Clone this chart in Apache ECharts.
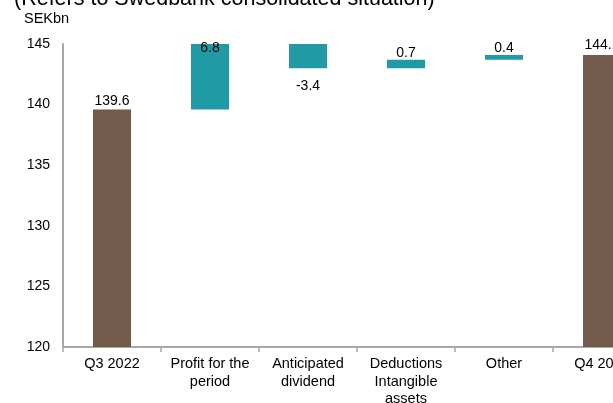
<!DOCTYPE html>
<html><head><meta charset="utf-8">
<script src="https://cdn.jsdelivr.net/npm/echarts@6/dist/echarts.min.js"></script>
<style>html,body{margin:0;padding:0;background:#fff}#c{width:613px;height:403px}</style>
</head><body><div id="c"></div>
<script>
const categories = ['Q3 2022', 'Profit for the\nperiod', 'Anticipated\ndividend', 'Deductions\nIntangible\nassets', 'Other', 'Q4 2022'];
const changes = [139.6, 6.8, -3.4, 0.7, 0.4, 144.1];
const isTotal = [true, false, false, false, false, true];
const yTicks = [120, 125, 130, 135, 140, 145];

const BROWN = '#735a4b', TEAL = '#209ba6';
const base = [], visible = [];
let running = 0;
changes.forEach((v, i) => {
  if (isTotal[i]) { base.push(0); visible.push(v); running = v; }
  else {
    const lo = v >= 0 ? running : running + v;
    base.push(lo); visible.push(Math.abs(v)); running += v;
  }
});

const labelCfg = [
  {position: 'top', distance: 1},
  {position: 'top', distance: 1, offset: [0, 12]},
  {position: 'bottom', distance: 11},
  {position: 'top', distance: 0},
  {position: 'top', distance: 0},
  {position: 'top', distance: 3}
];

const chart = echarts.init(document.getElementById('c'), null, {renderer: 'canvas'});
chart.setOption({
  animation: false,
  textStyle: {fontFamily: 'Liberation Sans, Arial, sans-serif'},
  title: [
    {text: '(Refers to Swedbank consolidated situation)', left: 9, top: -17,
     textStyle: {fontSize: 21.5, fontWeight: 'normal', color: '#000', fontFamily: 'Liberation Sans'}},
    {text: 'SEKbn', left: 19, top: 6,
     textStyle: {fontSize: 14.5, fontWeight: 'normal', color: '#000', fontFamily: 'Liberation Sans'}}
  ],
  grid: {left: 63, top: 44, width: 588, bottom: 56, containLabel: false, outerBoundsMode: 'none'},
  xAxis: {
    type: 'category', data: categories,
    axisLine: {lineStyle: {color: '#a8a8a8', width: 2}},
    axisTick: {show: true, length: 5, lineStyle: {color: '#a8a8a8', width: 1.5}},
    axisLabel: {color: '#000', fontSize: 14.5, lineHeight: 17.5, margin: 8.5, interval: 0,
                fontFamily: 'Liberation Sans'}
  },
  yAxis: {
    type: 'value', min: yTicks[0], max: yTicks[yTicks.length - 1], interval: 5,
    splitLine: {show: false},
    axisLine: {show: true, lineStyle: {color: '#a8a8a8', width: 2}},
    axisTick: {show: false},
    axisLabel: {color: '#000', fontSize: 14, margin: 13, fontFamily: 'Liberation Sans'}
  },
  series: [
    {type: 'bar', stack: 'w', data: base, barWidth: 38, silent: true,
     itemStyle: {color: 'transparent'}},
    {type: 'bar', stack: 'w', barWidth: 38,
     data: visible.map((v, i) => ({
       value: v,
       itemStyle: {color: isTotal[i] ? BROWN : TEAL},
       label: Object.assign({show: true, formatter: String(changes[i]), color: '#000',
                             fontSize: 14, fontFamily: 'Liberation Sans'}, labelCfg[i])
     }))}
  ]
});
</script></body></html>
